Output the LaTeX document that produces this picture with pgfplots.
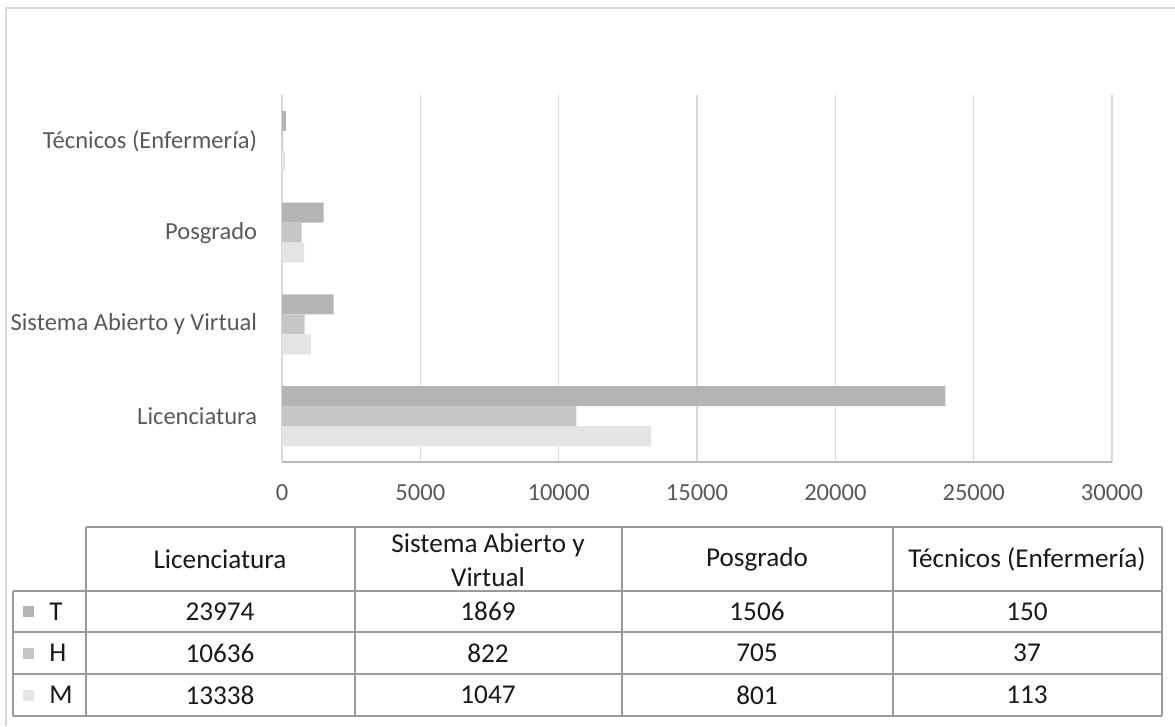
\documentclass[border=0pt]{standalone}
\usepackage{pgfplots}
\pgfplotsset{compat=1.18}
\usepackage{fontspec}
\setmainfont{Carlito}

\definecolor{serT}{HTML}{B4B4B4}
\definecolor{serH}{HTML}{C6C6C6}
\definecolor{serM}{HTML}{E4E4E4}
\definecolor{gridc}{HTML}{D9D9D9}
\definecolor{labc}{HTML}{595959}
\definecolor{tabc}{HTML}{9A9A9A}

\begin{document}
\begin{tikzpicture}[x=0.75pt,y=0.75pt,font=\fontsize{18}{21}\selectfont]
\useasboundingbox (0,0) rectangle (1175,726);
% outer frame
\draw[gridc, line width=1pt] (6,0) -- (6,718) -- (1175,718);
\coordinate (plotorigin) at (282,264);

\begin{axis}[
    at={(plotorigin)}, anchor=south west,
    scale only axis,
    width=622.5pt, height=275.25pt,
    xbar,
    bar width=15pt,
    xmin=0, xmax=30000,
    ymin=-0.5, ymax=3.5,
    xtick={0,5000,...,30000},
    ytick={0,1,2,3},
    yticklabels={Licenciatura, Sistema Abierto y Virtual, Posgrado, Técnicos (Enfermería)},
    scaled x ticks=false,
    /pgf/number format/.cd, 1000 sep={}, assume math mode=true, /pgfplots/.cd,
    xmajorgrids,
    grid style={gridc, line width=1pt},
    axis x line*=bottom,
    axis y line*=left,
    x axis line style={draw=gray!55, line width=1pt, -},
    y axis line style={draw=gridc, line width=1pt, -},
    major tick length=0pt,
    tick label style={labc, font=\fontsize{18.4}{21}\selectfont},
    xticklabel style={anchor=north, inner sep=0pt, yshift=-17pt},
    yticklabel style={anchor=east, inner sep=0pt, xshift=-18.5pt},
]
% T
\addplot[fill=serT, draw=none, bar shift=15pt] coordinates {(23974,0) (1869,1) (1506,2) (150,3)};
% H
\addplot[fill=serH, draw=none, bar shift=0pt] coordinates {(10636,0) (822,1) (705,2) (37,3)};
% M
\addplot[fill=serM, draw=none, bar shift=-15pt] coordinates {(13338,0) (1047,1) (801,2) (113,3)};
\end{axis}

% data table
\begin{scope}[tabc, line width=1pt]
\draw (86,199) -- (1162,199);
\draw (13,135) -- (1162,135);
\draw (13,94) -- (1162,94);
\draw (13,52) -- (1162,52);
\draw (13,10) -- (1162,10);
\draw (13,135) -- (13,10);
\foreach \cx in {86,355,622,893,1162} \draw (\cx,199) -- (\cx,10);
\end{scope}

\begin{scope}[font=\fontsize{20.4}{21}\selectfont, color=black!90]
\node at (220,167) {Licenciatura};
\node[align=center, inner sep=0pt, font=\fontsize{20.4}{25}\selectfont] at (488,166) {Sistema Abierto y\\Virtual};
\node at (757,167) {Posgrado};
\node at (1027,167) {Técnicos (Enfermería)};

\fill[serT] (23,120) rectangle (34,109);
\fill[serH] (23,78) rectangle (34,67);
\fill[serM] (23,36) rectangle (34,25);
\node[anchor=west, inner sep=0pt] at (49,114.5) {T};
\node[anchor=west, inner sep=0pt] at (49,73) {H};
\node[anchor=west, inner sep=0pt] at (49,31) {M};

\foreach \cx/\a/\b/\c in {220/23974/10636/13338, 488/1869/822/1047, 757/1506/705/801, 1027/150/37/113} {
  \node at (\cx,114.5) {\a};
  \node at (\cx,73) {\b};
  \node at (\cx,31) {\c};
}
\end{scope}
\end{tikzpicture}
\end{document}
